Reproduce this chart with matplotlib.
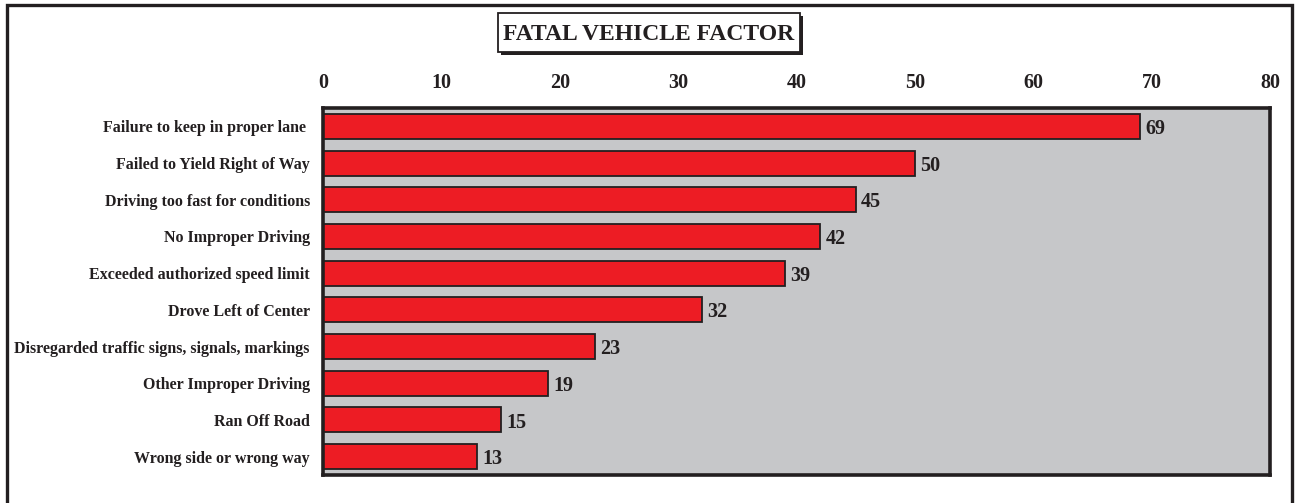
import matplotlib
matplotlib.use("Agg")
import matplotlib.pyplot as plt
from matplotlib.patches import Rectangle

categories = ["Failure to keep in proper lane ", "Failed to Yield Right of Way",
              "Driving too fast for conditions", "No Improper Driving",
              "Exceeded authorized speed limit", "Drove Left of Center",
              "Disregarded traffic signs, signals, markings", "Other Improper Driving",
              "Ran Off Road", "Wrong side or wrong way"]
values = [69, 50, 45, 42, 39, 32, 23, 19, 15, 13]
xticks = [0, 10, 20, 30, 40, 50, 60, 70, 80]

plt.rcParams['font.family'] = ['Liberation Serif', 'DejaVu Serif']
W, H = 1295, 503
fig = plt.figure(figsize=(W/100, H/100), dpi=100)

# outer frame (bottom edge runs off the canvas)
fig.patches.append(Rectangle((7/W, -10/H), (1292-7)/W, (508)/H, transform=fig.transFigure,
                             fill=False, edgecolor='#231f20', linewidth=2.4))

ax = fig.add_axes([323/W, 1-475/H, (1270-323)/W, (475-108)/H])
ax.set_facecolor('#c6c7c9')
y = list(range(len(categories)))
ax.barh(y, values, height=0.68, color='#ed1c24', edgecolor='#231f20', linewidth=1.3)
ax.set_xlim(0, 80)
ax.set_ylim(len(categories) - 0.5, -0.5)
ax.set_yticks(y)
ax.set_yticklabels(categories, fontsize=11.5, fontweight='bold', color='#231f20')
ax.set_xticks(xticks)
ax.set_xticklabels([str(t) for t in xticks], fontsize=14.5, fontweight='bold', color='#231f20')
ax.xaxis.tick_top()
ax.tick_params(axis='x', length=0, pad=11)
ax.tick_params(axis='y', length=0, pad=9.5)
for s in ax.spines.values():
    s.set_linewidth(2.6)
    s.set_color('#231f20')
for yi, v in zip(y, values):
    ax.text(v + 0.45, yi + 0.07, str(v), va='center', ha='left', fontsize=14.5,
            fontweight='bold', color='#231f20')

# title box with drop shadow
x0, x1, y0, y1 = 498, 800, 13, 52
fig.patches.append(Rectangle(((x0+3)/W, 1-(y1+3)/H), (x1-x0)/W, (y1-y0)/H, transform=fig.transFigure,
                             facecolor='#231f20', edgecolor='none'))
fig.patches.append(Rectangle((x0/W, 1-y1/H), (x1-x0)/W, (y1-y0)/H, transform=fig.transFigure,
                             facecolor='white', edgecolor='#231f20', linewidth=1.3))
fig.text((x0+x1)/2/W, 1-34/H, "FATAL VEHICLE FACTOR", ha='center', va='center', fontsize=17,
         fontweight='bold', color='#231f20')

fig.savefig("out.png", dpi=100)
